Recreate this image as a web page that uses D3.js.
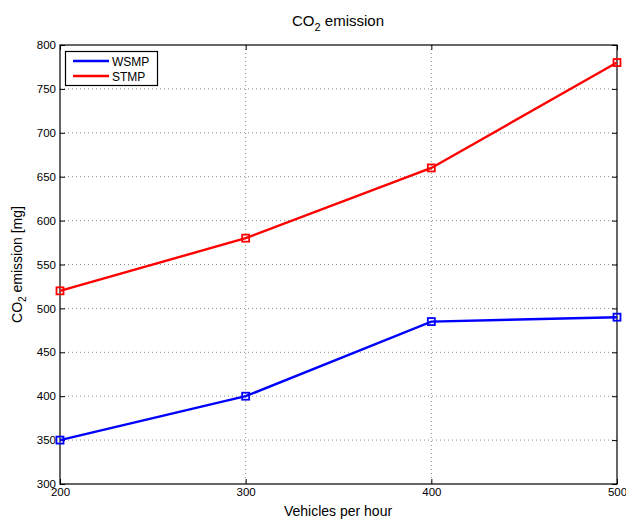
<!DOCTYPE html>
<html><head><meta charset="utf-8">
<script src="https://cdn.jsdelivr.net/npm/d3@7"></script>
<style>body{margin:0;background:#fff}svg{display:block}text{font-family:"Liberation Sans",Arial,sans-serif}</style>
</head><body>
<svg id="c" width="626" height="519"></svg>
<script>
const xValues = [200, 300, 400, 500];
const wsmp = [350, 400, 485, 490];
const stmp = [520, 580, 660, 780];
const xTicks = [200, 300, 400, 500];
const yTicks = [300, 350, 400, 450, 500, 550, 600, 650, 700, 750, 800];
const seriesNames = ["WSMP", "STMP"];
const seriesColors = ["#0000ff", "#ff0000"];

const svg = d3.select("#c");
const L = 60, R = 617, T = 45, B = 484;
const x = d3.scaleLinear().domain([200, 500]).range([L, R]);
const y = d3.scaleLinear().domain([300, 800]).range([B, T]);

// grid
const grid = svg.append("g").attr("stroke", "#8a8a8a").attr("stroke-width", 1).attr("stroke-dasharray", "1,3");
xTicks.forEach(v => { if (v > 200 && v < 500) grid.append("line").attr("x1", x(v)).attr("x2", x(v)).attr("y1", T).attr("y2", B); });
yTicks.forEach(v => { if (v > 300 && v < 800) grid.append("line").attr("x1", L).attr("x2", R).attr("y1", y(v)).attr("y2", y(v)); });

// axes
const ax = (g, axis) => { g.call(axis); g.select(".domain").remove(); g.selectAll("line").attr("stroke", "#000"); g.selectAll("text").attr("font-size", 11.5).attr("fill", "#000"); };
svg.append("g").attr("transform", `translate(0,${B})`).call(g => ax(g, d3.axisBottom(x).tickValues(xTicks).tickSize(-5).tickPadding(4).tickFormat(d3.format("d"))));
svg.append("g").attr("transform", `translate(0,${T})`).call(g => { ax(g, d3.axisTop(x).tickValues(xTicks).tickSize(-5)); g.selectAll("text").remove(); });
svg.append("g").attr("transform", `translate(${L},0)`).call(g => ax(g, d3.axisLeft(y).tickValues(yTicks).tickSize(-5).tickPadding(4).tickFormat(d3.format("d"))));
svg.append("g").attr("transform", `translate(${R},0)`).call(g => { ax(g, d3.axisRight(y).tickValues(yTicks).tickSize(-5)); g.selectAll("text").remove(); });
svg.append("rect").attr("x", L).attr("y", T).attr("width", R - L).attr("height", B - T).attr("fill", "none").attr("stroke", "#000").attr("stroke-width", 1.2);

// series
const line = d3.line().x((d, i) => x(xValues[i])).y(d => y(d));
[wsmp, stmp].forEach((s, k) => {
  svg.append("path").datum(s).attr("d", line).attr("fill", "none").attr("stroke", seriesColors[k]).attr("stroke-width", 2.4);
  svg.selectAll(null).data(s).enter().append("rect")
    .attr("x", (d, i) => x(xValues[i]) - 3.5).attr("y", d => y(d) - 3.5)
    .attr("width", 7).attr("height", 7).attr("fill", "none").attr("stroke", seriesColors[k]).attr("stroke-width", 1.8);
});

// legend
const lg = svg.append("g");
lg.append("rect").attr("x", 65.5).attr("y", 51.5).attr("width", 92).attr("height", 34).attr("fill", "#fff").attr("stroke", "#000").attr("stroke-width", 1.2);
seriesNames.forEach((n, k) => {
  const yy = 61 + k * 15;
  lg.append("line").attr("x1", 73).attr("x2", 109).attr("y1", yy).attr("y2", yy).attr("stroke", seriesColors[k]).attr("stroke-width", 2.4);
  lg.append("text").attr("x", 112).attr("y", yy + 4.5).attr("font-size", 12).text(n);
});

// title & labels
const t = svg.append("text").attr("x", 338).attr("y", 26).attr("text-anchor", "middle").attr("font-size", 15);
t.append("tspan").text("CO");
t.append("tspan").attr("font-size", 11).attr("dy", 5).text("2");
t.append("tspan").attr("dy", -5).text(" emission");

svg.append("text").attr("x", 338).attr("y", 516).attr("text-anchor", "middle").attr("font-size", 14).text("Vehicles per hour");

const yl = svg.append("text").attr("transform", `translate(22,${(T + B) / 2}) rotate(-90)`).attr("text-anchor", "middle").attr("font-size", 14);
yl.append("tspan").text("CO");
yl.append("tspan").attr("font-size", 10).attr("dy", 4).text("2");
yl.append("tspan").attr("dy", -4).text(" emission [mg]");
</script>
</body></html>
